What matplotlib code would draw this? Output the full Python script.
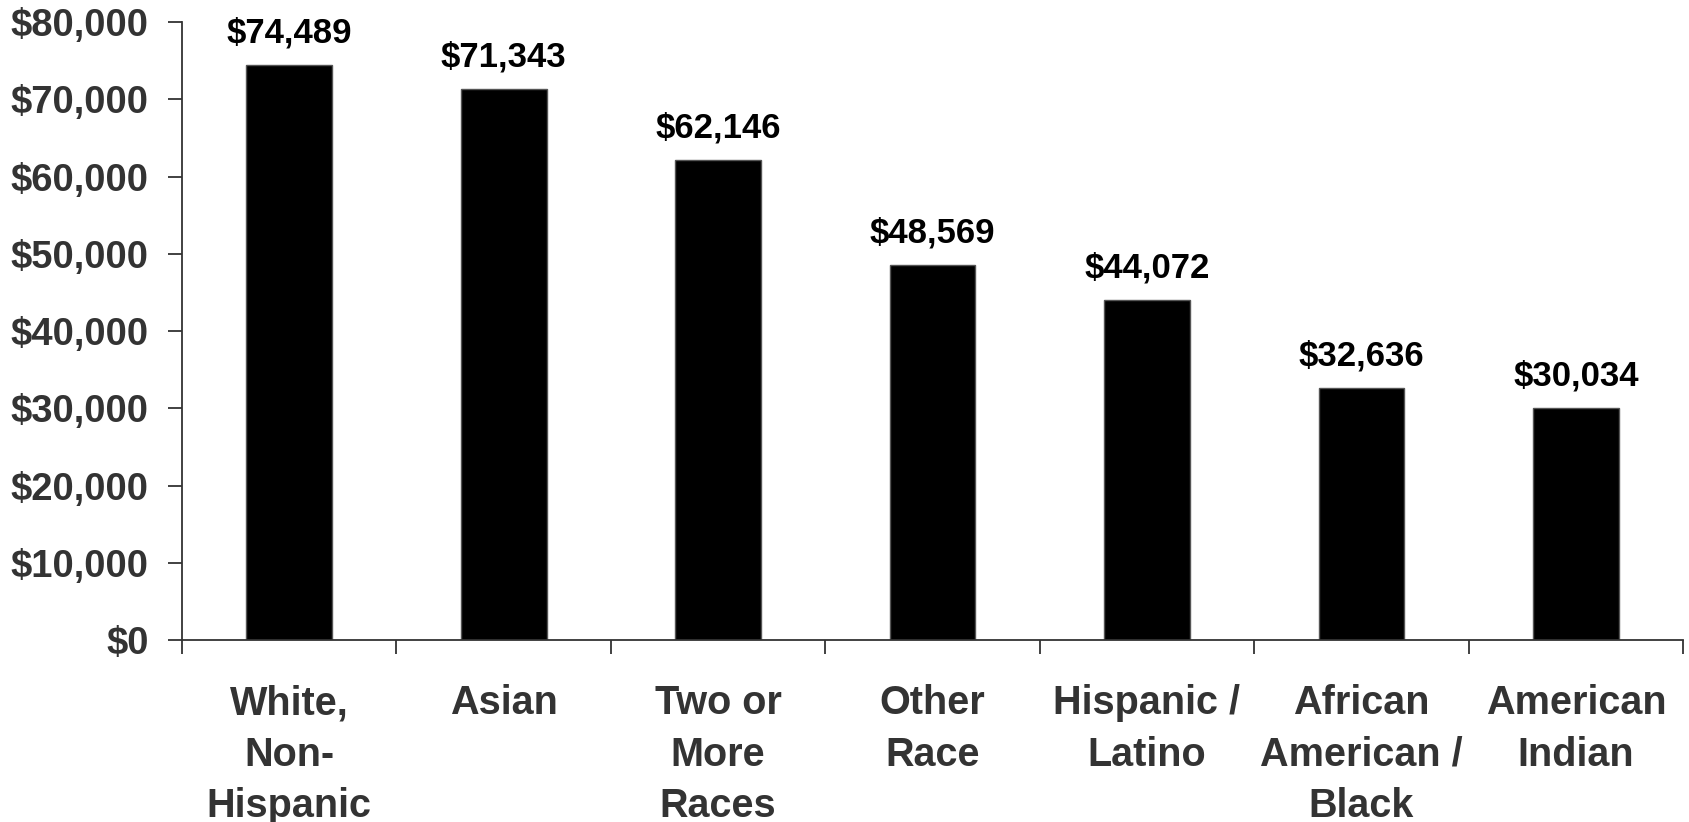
#!/usr/bin/env python3

# Median household income by race / ethnicity -- bar chart

import numpy as np
import matplotlib.pyplot as plt

groups = ['White,\nNon-\nHispanic', 'Asian', 'Two or\nMore\nRaces', 'Other\nRace',
          'Hispanic /\nLatino', 'African\nAmerican /\nBlack', 'American\nIndian']
income = [74489, 71343, 62146, 48569, 44072, 32636, 30034]
yticks = [0, 10000, 20000, 30000, 40000, 50000, 60000, 70000, 80000]

plt.rcParams['font.family'] = ['Liberation Sans', 'DejaVu Sans']
plt.rcParams['font.weight'] = 'bold'

grey = '#333333'

fig = plt.figure(figsize=(16.9, 8.22), dpi=100, facecolor='white')
ax = fig.add_axes([0.1077, 0.2214, 0.8882, 0.7518])

x = np.arange(len(groups))
ax.bar(x, income, width=0.4, color='black', edgecolor='#555555', linewidth=1)

for xi, v in zip(x, income):
    ax.annotate('${:,}'.format(v), (xi, v), xytext=(0, 16), textcoords='offset points',
                ha='center', va='baseline', fontsize=25, fontweight='bold', color='black')

ax.set_xlim(-0.5, len(groups) - 0.5)
ax.set_ylim(0, 80000)

# ticks at the category boundaries, labels at the centres
ax.set_xticks(np.arange(len(groups) + 1) - 0.5)
ax.set_xticklabels([])
ax.set_xticks(x, minor=True)
ax.set_xticklabels(groups, minor=True, fontsize=28.5, fontweight='bold', color=grey,
                   linespacing=1.44)
ax.tick_params(axis='x', which='major', length=10, width=1.3, color=grey, direction='out')
ax.tick_params(axis='x', which='minor', length=0, pad=32)

ax.set_yticks(yticks)
ax.set_yticklabels(['${:,}'.format(t) for t in yticks], fontsize=27.5, fontweight='bold',
                   color=grey)
ax.tick_params(axis='y', length=10, width=1.3, color=grey, direction='out', pad=14)

for side in ['top', 'right']:
    ax.spines[side].set_visible(False)
for side in ['left', 'bottom']:
    ax.spines[side].set_color(grey)
    ax.spines[side].set_linewidth(1.3)

plt.savefig('out.png', dpi=100, facecolor='white')
